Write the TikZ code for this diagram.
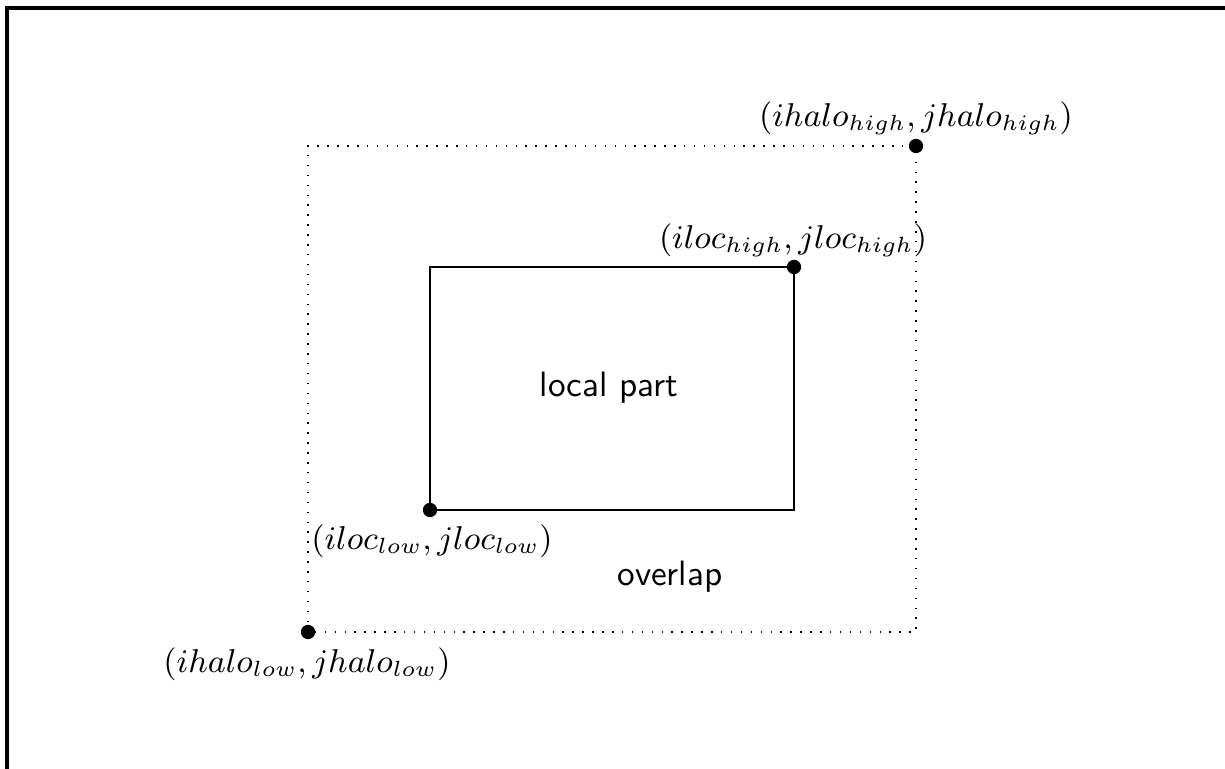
\documentclass[tikz,border=0pt]{standalone}
\begin{document}
\begin{tikzpicture}[x=0.2725pt,y=-0.2725pt,
  dot/.style={circle,fill=black,inner sep=0pt,minimum size=3.9pt},
  frameline/.style={line width=0.85pt},
  halo/.style={line width=0.4pt,dash pattern=on 0.4pt off 2.3pt},
  loc/.style={line width=0.55pt},
  lbl/.style={inner sep=0pt,font=\fontsize{9.2pt}{11pt}\selectfont},
  txt/.style={inner sep=0pt,font=\fontsize{9.6pt}{11pt}\selectfont\sffamily}]
\useasboundingbox (0,0) rectangle (1225,769);
\coordinate (fb) at (7,769);
\coordinate (ftl) at (7,8);
\coordinate (fr) at (1225,8);
\draw[frameline] (fb) -- (ftl) -- (fr);
\coordinate (hl) at (308,632);
\coordinate (hh) at (916,146);
\coordinate (ll) at (430,510);
\coordinate (lh) at (794,267);
\draw[halo] (hl) rectangle (hh);
\draw[loc] (ll) rectangle (lh);
\node[dot] (dhl) at (hl) {};
\node[dot] (dhh) at (hh) {};
\node[dot] (dll) at (ll) {};
\node[dot] (dlh) at (lh) {};
\node[lbl] (thh) at (916,118) {$(ihalo_{high},jhalo_{high})$};
\node[lbl] (tlh) at (793,240) {$(iloc_{high},jloc_{high})$};
\node[lbl] (tll) at (432,541) {$(iloc_{low},jloc_{low})$};
\node[lbl] (thl) at (307,664) {$(ihalo_{low},jhalo_{low})$};
\node[txt] (tlp) at (609,388) {local part};
\node[txt] (tov) at (670,577) {overlap};
\end{tikzpicture}
\end{document}
